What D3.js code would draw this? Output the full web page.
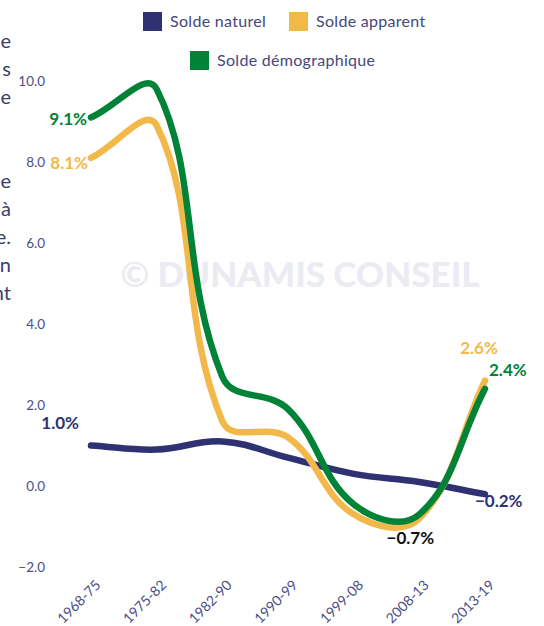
<!DOCTYPE html>
<html>
<head>
  <meta charset="utf-8">
  <script src="https://d3js.org/d3.v7.min.js"></script>
  <style>
    body { margin: 0; background: #fff; }
    svg { display: block; font-family: Lato, "Open Sans", sans-serif; }
    .tick text { fill: #4b4f86; font-size: 13.5px; }
    .side { fill: #3a3d6b; font-size: 20px; }
    .legend text { fill: #45487c; font-size: 16px; letter-spacing: 0.3px; }
    .val { font-size: 17px; font-weight: 700; }
  </style>
</head>
<body>
<script>
// periods on the x axis
var periods = ["1968-75", "1975-82", "1982-90", "1990-99", "1999-08", "2008-13", "2013-19"];
// yearly rates in %
var soldeNaturel = [1.0, 0.9, 1.1, 0.7, 0.3, 0.1, -0.2];
var soldeApparent = [8.1, 8.9, 1.6, 1.2, -0.7, -0.8, 2.6];
var soldeDemo = [9.1, 9.8, 2.7, 1.9, -0.45, -0.7, 2.4];
var yTicks = [-2, 0, 2, 4, 6, 8, 10];
// bits of the neighbouring paragraph cut by the frame
var sideText = ["e", "s", "e", "", "", "e", "à", "e.", "n", "nt"];

var width = 544, height = 626;

var svg = d3.select("body").append("svg")
    .attr("width", width)
    .attr("height", height);

var x = d3.scalePoint().domain(periods).range([91, 485]);
var y = d3.scaleLinear().domain([-2, 10]).range([567, 81]);

// spline close to the one chart.js draws (tension 0.4)
function ChartSpline(context) { this._context = context; }
ChartSpline.prototype = {
  areaStart: function () {},
  areaEnd: function () {},
  lineStart: function () { this._pts = []; },
  point: function (px, py) { this._pts.push([+px, +py]); },
  lineEnd: function () {
    var p = this._pts, n = p.length, t = 0.4, c = this._context;
    var cps = p.map(function (cur, i) {
      var prev = p[i - 1] || cur, next = p[i + 1] || cur;
      var d01 = Math.hypot(cur[0] - prev[0], cur[1] - prev[1]);
      var d12 = Math.hypot(next[0] - cur[0], next[1] - cur[1]);
      var s01 = d01 / (d01 + d12) || 0, s12 = d12 / (d01 + d12) || 0;
      var fa = t * s01, fb = t * s12;
      return {
        pr: [cur[0] - fa * (next[0] - prev[0]), cur[1] - fa * (next[1] - prev[1])],
        nx: [cur[0] + fb * (next[0] - prev[0]), cur[1] + fb * (next[1] - prev[1])]
      };
    });
    c.moveTo(p[0][0], p[0][1]);
    for (var i = 1; i < n; i++) {
      c.bezierCurveTo(cps[i - 1].nx[0], cps[i - 1].nx[1], cps[i].pr[0], cps[i].pr[1], p[i][0], p[i][1]);
    }
  }
};
var chartSpline = function (context) { return new ChartSpline(context); };

// left paragraph remnants
svg.selectAll("text.side")
    .data(sideText)
    .enter().append("text")
    .attr("class", "side")
    .attr("x", 11)
    .attr("y", function (d, i) { return 48 + i * 28; })
    .attr("text-anchor", "end")
    .text(function (d) { return d; });

// legend
var legendItems = [
  { name: "Solde naturel", color: "#2e3272", x: 143, y: 12 },
  { name: "Solde apparent", color: "#f3b84a", x: 289, y: 12 },
  { name: "Solde démographique", color: "#008337", x: 190, y: 51 }
];
var lg = svg.append("g").attr("class", "legend")
    .selectAll("g").data(legendItems).enter().append("g")
    .attr("transform", function (d) { return "translate(" + d.x + "," + d.y + ")"; });
lg.append("rect").attr("width", 19).attr("height", 19).attr("fill", function (d) { return d.color; });
lg.append("text").attr("x", 27).attr("y", 15).text(function (d) { return d.name; });

// watermark
svg.append("text")
    .attr("x", 300)
    .attr("y", 287)
    .attr("text-anchor", "middle")
    .style("font-size", "35px")
    .style("font-weight", 900)
    .style("fill", "#ebebf2")
    .text("© DUNAMIS CONSEIL");

// axes, no lines
var yAxis = svg.append("g")
    .attr("transform", "translate(45,0)")
    .call(d3.axisLeft(y).tickValues(yTicks).tickSize(0).tickPadding(0).tickFormat(d3.format(".1f")));
yAxis.select(".domain").remove();
yAxis.selectAll("text").style("font-family", "Lato, sans-serif");

var xAxis = svg.append("g")
    .attr("transform", "translate(0,580)")
    .call(d3.axisBottom(x).tickSize(0).tickPadding(0));
xAxis.select(".domain").remove();
xAxis.selectAll("text")
    .style("font-family", "Lato, sans-serif")
    .style("font-size", "14px")
    .attr("text-anchor", "end")
    .attr("dy", 0)
    .attr("transform", "translate(10,6) rotate(-45)");

var line = d3.line()
    .x(function (d, i) { return x(periods[i]); })
    .y(function (d) { return y(d); })
    .curve(chartSpline);

var series = [
  { values: soldeNaturel, color: "#2e3272" },
  { values: soldeApparent, color: "#f3b84a" },
  { values: soldeDemo, color: "#008337" }
];
svg.selectAll("path.serie")
    .data(series)
    .enter().append("path")
    .attr("class", "serie")
    .attr("d", function (d) { return line(d.values); })
    .attr("fill", "none")
    .attr("stroke", function (d) { return d.color; })
    .attr("stroke-width", 6.5)
    .attr("stroke-linecap", "round");

// value labels
var last = periods.length - 1;
var labels = [
  { v: soldeDemo[0], i: 0, color: "#008337", dx: -4, dy: 2, anchor: "end" },
  { v: soldeApparent[0], i: 0, color: "#f3b84a", dx: -3, dy: 5, anchor: "end" },
  { v: soldeNaturel[0], i: 0, color: "#2e3272", dx: -12, dy: -22, anchor: "end" },
  { v: soldeNaturel[last], i: last, color: "#2e3272", dx: -10, dy: 7, anchor: "start" },
  { v: soldeDemo[5], i: 5, color: "#111111", dx: -9, dy: 24, anchor: "middle" },
  { v: soldeApparent[last], i: last, color: "#f3b84a", dx: -6, dy: -33, anchor: "middle" },
  { v: soldeDemo[last], i: last, color: "#008337", dx: 4, dy: -19, anchor: "start" }
];
svg.selectAll("text.val")
    .data(labels)
    .enter().append("text")
    .attr("class", "val")
    .attr("x", function (d) { return x(periods[d.i]) + d.dx; })
    .attr("y", function (d) { return y(d.v) + d.dy; })
    .attr("dy", "0.35em")
    .attr("text-anchor", function (d) { return d.anchor; })
    .style("fill", function (d) { return d.color; })
    .text(function (d) { return d3.format(".1f")(d.v) + "%"; });
</script>
</body>
</html>
